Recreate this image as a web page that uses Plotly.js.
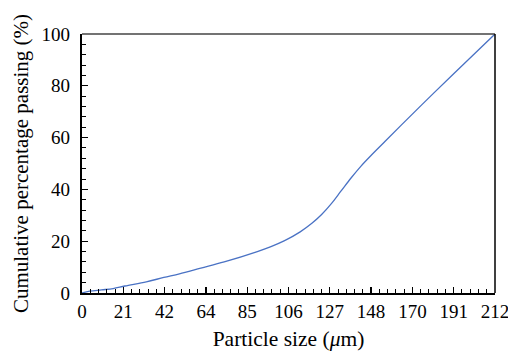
<!DOCTYPE html>
<html>
<head>
<meta charset="utf-8">
<script src="https://cdn.plot.ly/plotly-3.0.1.min.js"></script>
<style>html,body{margin:0;padding:0;background:#fff;}#chart{width:508px;height:353px;}</style>
</head>
<body>
<div id="chart"></div>
<script>
// Particle size (µm) and cumulative percentage passing (%)
const particleSize = [0, 4, 10, 16, 22, 33, 42, 50, 61, 73, 90, 97, 104, 112, 118, 123, 128, 133, 138, 143, 148, 155, 164, 180, 196, 212];
const cumulativePassing = [0, 0.7, 1.2, 1.7, 2.7, 4.3, 6.0, 7.4, 9.6, 12.0, 16.0, 17.9, 20.2, 23.6, 26.9, 30.3, 34.5, 39.4, 44.3, 48.8, 52.8, 58.1, 64.9, 76.8, 88.4, 100];
const xTickVals = [0, 21.2, 42.4, 63.6, 84.8, 106, 127.2, 148.4, 169.6, 190.8, 212];
const xTickText = ["0", "21", "42", "64", "85", "106", "127", "148", "170", "191", "212"];
const yTickVals = [0, 20, 40, 60, 80, 100];

const fontFam = '"Liberation Serif", "Times New Roman", serif';

const trace = {
  x: particleSize,
  y: cumulativePassing,
  type: 'scatter',
  mode: 'lines',
  line: {color: '#4a72c4', width: 1.3, shape: 'spline', smoothing: 1},
  hoverinfo: 'skip'
};

const layout = {
  width: 508, height: 353,
  margin: {l: 82, r: 13, t: 34, b: 60},
  paper_bgcolor: '#fff', plot_bgcolor: '#fff',
  showlegend: false,
  font: {family: fontFam, size: 19, color: '#000'},
  xaxis: {
    range: [0, 212], fixedrange: true,
    tickmode: 'array', tickvals: xTickVals, ticktext: xTickText,
    ticks: 'inside', ticklen: 6, tickwidth: 1.3, tickcolor: '#000',
    minor: {dtick: 4.24, tick0: 0, ticks: 'inside', ticklen: 4, tickwidth: 1, tickcolor: '#000'},
    showgrid: false, zeroline: false,
    showline: true, linecolor: '#000', linewidth: 2.2,
    ticklabelstandoff: 0,
    ticklabeloverflow: 'allow',
    tickfont: {family: fontFam, size: 19, color: '#000'},
    title: {text: 'Particle size (<i>μ</i>m)', font: {family: fontFam, size: 21.5, color: '#000'}, standoff: 10}
  },
  yaxis: {
    range: [0, 100], fixedrange: true,
    tickmode: 'array', tickvals: yTickVals,
    ticks: 'inside', ticklen: 6, tickwidth: 1.3, tickcolor: '#000',
    minor: {dtick: 4, tick0: 0, ticks: 'inside', ticklen: 4, tickwidth: 1, tickcolor: '#000'},
    showgrid: false, zeroline: false,
    showline: true, linecolor: '#000', linewidth: 2.2,
    ticklabelstandoff: 6,
    tickfont: {family: fontFam, size: 19, color: '#000'},
    title: {text: 'Cumulative percentage passing (%)', font: {family: fontFam, size: 21, color: '#000'}, standoff: 7}
  },
  shapes: [
    {type: 'line', xref: 'paper', yref: 'paper', x0: 0, x1: 1, y0: 1, y1: 1, line: {color: '#444', width: 1.5}},
    {type: 'line', xref: 'paper', yref: 'paper', x0: 1, x1: 1, y0: 0, y1: 1, line: {color: '#000', width: 1.5}}
  ]
};

Plotly.newPlot('chart', [trace], layout, {staticPlot: true, displayModeBar: false});
</script>
</body>
</html>
